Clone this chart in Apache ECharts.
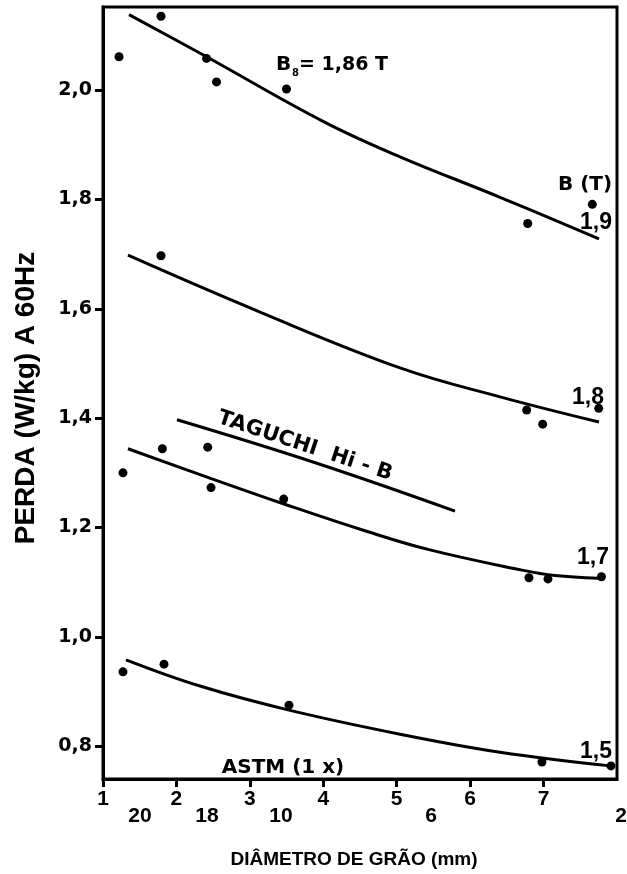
<!DOCTYPE html>
<html>
<head>
<meta charset="utf-8">
<script src="https://cdn.jsdelivr.net/npm/echarts@6/dist/echarts.min.js"></script>
<style>
  html, body { margin: 0; padding: 0; background: #ffffff; }
  #chart { width: 627px; height: 874px; }
</style>
</head>
<body>
<div id="chart"></div>
<script>
// Measured losses (W/kg at 60 Hz) against grain diameter (mm), one set per induction B (T)
const dots19 = [[1.218, 2.061], [1.790, 2.135], [2.410, 2.058], [2.546, 2.015], [3.499, 2.002], [6.784, 1.756], [7.664, 1.791]];
const dots18 = [[1.790, 1.697], [6.770, 1.415], [6.988, 1.389], [7.751, 1.418]];
const dots17 = [[1.272, 1.300], [1.808, 1.344], [2.426, 1.347], [2.471, 1.273], [3.461, 1.252], [6.801, 1.108], [7.060, 1.106], [7.788, 1.110]];
const dots15 = [[1.272, 0.936], [1.831, 0.950], [3.533, 0.875], [6.978, 0.771], [7.918, 0.764]];

// Fitted trend curves
const fit19 = [[1.354, 2.138], [2.410, 2.061], [4.010, 1.942], [5.045, 1.878], [6.407, 1.804], [7.755, 1.728]];
const fit18 = [[1.340, 1.698], [3.138, 1.594], [5.045, 1.492], [6.407, 1.439], [7.755, 1.393]];
const fit17 = [[1.340, 1.344], [2.484, 1.289], [3.465, 1.243], [4.568, 1.194], [5.453, 1.159], [6.706, 1.122], [7.155, 1.112], [7.741, 1.107]];
const fit15 = [[1.313, 0.958], [2.321, 0.910], [3.533, 0.866], [5.045, 0.822], [6.407, 0.789], [7.918, 0.764]];

// Reference line for TAGUCHI Hi-B material
const taguchi = [[2.008, 1.397], [3.901, 1.318], [5.794, 1.230]];

// Axis ticks
const yTicks = [0.8, 1.0, 1.2, 1.4, 1.6, 1.8, 2.0];
const xTicks = [1, 2, 3, 4, 5, 6, 7];

// ASTM grain size numbers shown under the diameter scale
const astmPos = [1.504, 2.416, 3.424, 5.467, 8.054];
const astmLabels = ['20', '18', '10', '6', '2'];

const BOLD_WIDE = 'DejaVu Sans';
const BOLD = 'Liberation Sans, Arial, sans-serif';

const chart = echarts.init(document.getElementById('chart'), null, { renderer: 'canvas' });

function curve(data) {
  return {
    type: 'line', data: data, smooth: 0.4,
    showSymbol: false, symbol: 'none', silent: true, z: 3,
    lineStyle: { color: '#000', width: 3, opacity: 1 }
  };
}
function dots(data) {
  return {
    type: 'scatter', data: data, symbol: 'circle', symbolSize: 9, z: 5, silent: true,
    itemStyle: { color: '#000', borderWidth: 0, opacity: 1 }
  };
}

function txt(text, x, y, size, family, extra) {
  return Object.assign({
    type: 'text', x: x, y: y, silent: true, z: 10,
    style: Object.assign({
      text: text, fill: '#000', font: 'bold ' + size + 'px ' + family,
      align: 'center', verticalAlign: 'middle'
    }, (extra && extra.style) || {})
  }, (extra && extra.el) || {});
}

const option = {
  backgroundColor: '#ffffff',
  animation: false,
  grid: {
    left: 103, right: 10, top: 7, bottom: 95,
    show: true, borderColor: '#000', borderWidth: 3,
    containLabel: false, outerBoundsMode: 'none'
  },
  xAxis: {
    type: 'value', min: 1, max: 8,
    axisLine: { show: true, onZero: false, lineStyle: { color: '#000', width: 3 } },
    axisTick: { show: true, customValues: xTicks, length: 8, lineStyle: { color: '#000', width: 3 } },
    axisLabel: {
      customValues: xTicks, margin: 10, color: '#000',
      fontFamily: BOLD, fontWeight: 'bold', fontSize: 21
    },
    splitLine: { show: false }
  },
  yAxis: {
    type: 'value', min: 0.74, max: 2.152,
    axisLine: { show: true, onZero: false, lineStyle: { color: '#000', width: 3 } },
    axisTick: { show: true, customValues: yTicks, length: 8, lineStyle: { color: '#000', width: 3 } },
    axisLabel: {
      customValues: yTicks, margin: 11, color: '#000',
      fontFamily: BOLD_WIDE, fontWeight: 'bold', fontSize: 19,
      formatter: v => v.toFixed(1).replace('.', ',')
    },
    splitLine: { show: false }
  },
  series: [
    curve(fit19), curve(fit18), curve(fit17), curve(fit15), curve(taguchi),
    dots(dots19), dots(dots18), dots(dots17), dots(dots15)
  ]
};

chart.setOption(option);

// Axis titles, induction labels, material names and the ASTM scale
const graphics = [
  txt('PERDA (W/kg) A 60Hz', 26, 398, 28, BOLD, { el: { rotation: Math.PI / 2 } }),
  txt('DIÂMETRO DE GRÃO (mm)', 354, 860, 19, BOLD),
  txt('B', 276, 65, 20, BOLD_WIDE, { style: { align: 'left' } }),
  txt('8', 292, 73, 10, BOLD_WIDE, { style: { align: 'left' } }),
  txt('= 1,86 T', 299, 65, 19, BOLD_WIDE, { style: { align: 'left' } }),
  txt('B (T)', 585, 185, 20, BOLD_WIDE),
  txt('1,9', 596, 223, 23, BOLD),
  txt('1,8', 588, 398, 23, BOLD),
  txt('1,7', 593, 558, 23, BOLD),
  txt('1,5', 596, 752, 23, BOLD),
  txt('ASTM (1 x)', 283, 768, 20, BOLD_WIDE),
  txt('TAGUCHI  Hi - B', 305, 446, 21, BOLD_WIDE, { el: { rotation: -0.32 } })
];
astmPos.forEach((v, i) => {
  const p = chart.convertToPixel({ gridIndex: 0 }, [v, 0.8]);
  graphics.push(txt(astmLabels[i], p[0], 816, 21, BOLD));
});
chart.setOption({ graphic: graphics });
</script>
</body>
</html>
